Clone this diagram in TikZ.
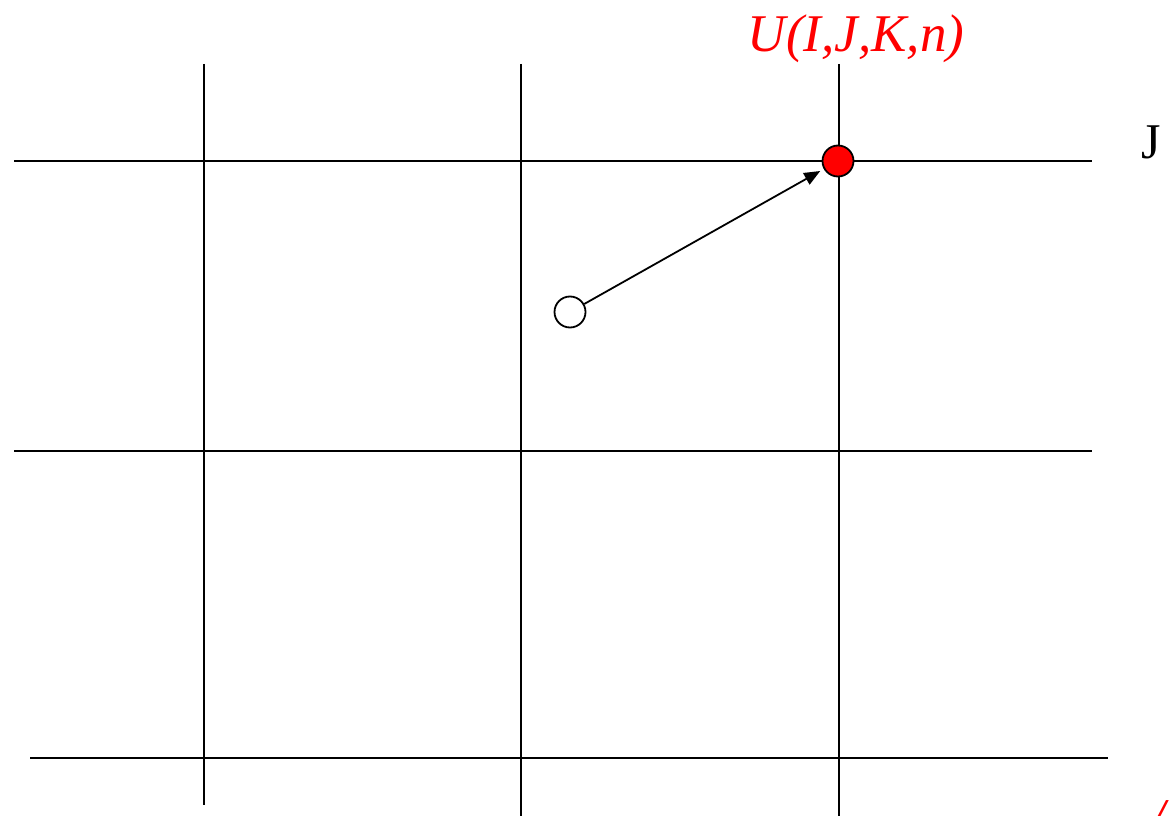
\documentclass[tikz,border=0pt]{standalone}
\usepackage{fontspec}
\setmainfont{Liberation Serif}
\usetikzlibrary{arrows.meta}
\begin{document}
\begin{tikzpicture}[x=1pt,y=-1pt,
  grid/.style={line width=2pt,black},
  pt/.style={circle,draw=black,line width=1.8pt,minimum size=31pt,inner sep=0pt},
  lbl/.style={inner sep=0pt,anchor=base}]
\useasboundingbox (0,0) rectangle (1170,816);
% horizontal lines
\coordinate (h1a) at (14,161); \coordinate (h1b) at (1092,161);
\coordinate (h2a) at (14,451); \coordinate (h2b) at (1092,451);
\coordinate (h3a) at (30,758); \coordinate (h3b) at (1108,758);
\draw[grid] (h1a) -- (h1b);
\draw[grid] (h2a) -- (h2b);
\draw[grid] (h3a) -- (h3b);
% vertical lines
\coordinate (v1a) at (204,64); \coordinate (v1b) at (204,805);
\coordinate (v2a) at (521,64); \coordinate (v2b) at (521,820);
\coordinate (v3a) at (839,64); \coordinate (v3b) at (839,820);
\draw[grid] (v1a) -- (v1b);
\draw[grid] (v2a) -- (v2b);
\draw[grid] (v3a) -- (v3b);
% points
\node[pt,fill=red] (P) at (838,161) {};
\node[pt,fill=white] (Q) at (570,312) {};
\draw[line width=1.8pt,-{Triangle[length=16pt,width=13pt]},shorten >=4pt] (Q) -- (P);
% labels
\node[lbl,text=red,font=\fontsize{53}{60}\selectfont\itshape] (U) at (856,52) {U(I,J,K,n)};
\node[lbl,font=\fontsize{50}{58}\selectfont] (J) at (1151,158) {J};
\node[lbl,anchor=north west,text=red,font=\fontsize{53}{60}\selectfont\itshape] (frag) at (1150,800) {/};
\end{tikzpicture}
\end{document}
